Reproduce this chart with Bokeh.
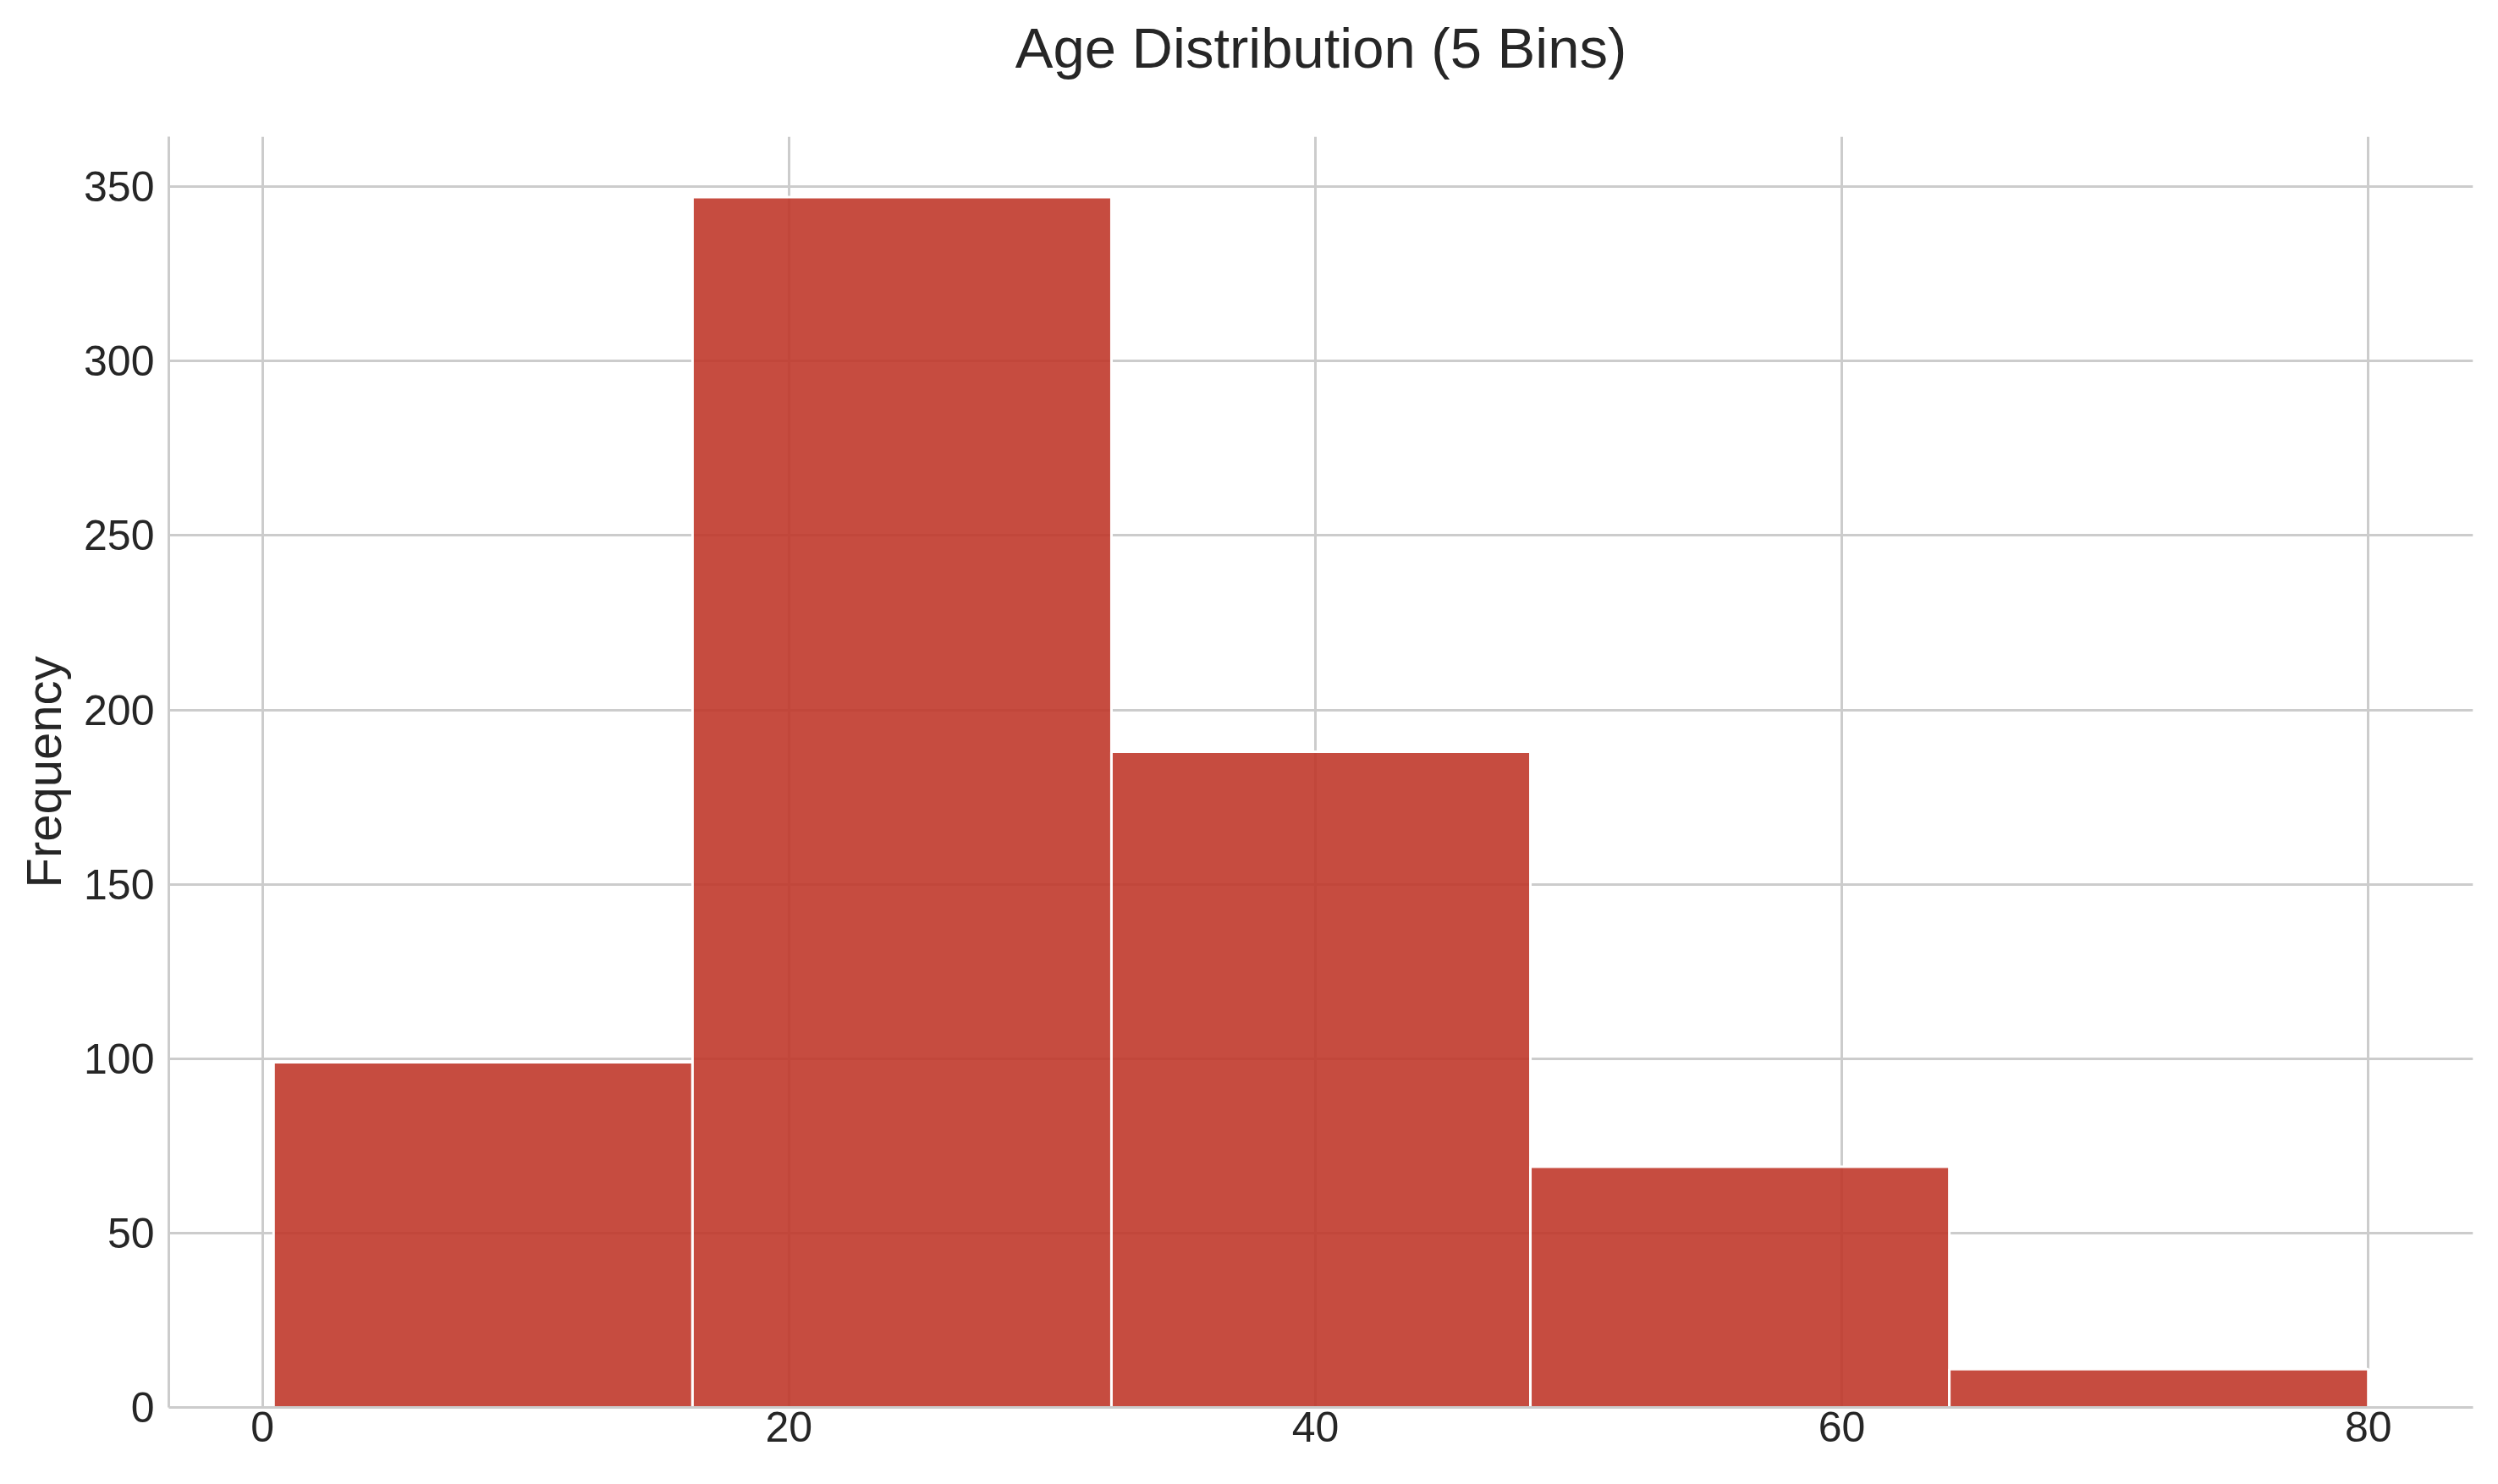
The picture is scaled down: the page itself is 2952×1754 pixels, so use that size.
from bokeh.plotting import figure
from bokeh.models import Range1d, FixedTicker, Title
from bokeh.embed import file_html
from bokeh.resources import INLINE

# Age histogram, 5 bins (edges, counts)
bin_edges = [0.42, 16.336, 32.252, 48.168, 64.084, 80.0]
counts = [99, 347, 188, 69, 11]
x_ticks = [0, 20, 40, 60, 80]
y_ticks = [0, 50, 100, 150, 200, 250, 300, 350]
title_text = "Age Distribution (5 Bins)"

FONT = "Liberation Sans"
TEXT = "#262626"
GRID = "#cccccc"

p = figure(
    width=2936,
    height=1738,
    x_range=Range1d(-3.56, 83.98),
    y_range=Range1d(0, 364.35),
    toolbar_location=None,
    output_backend="svg",
    min_border_left=199,
    min_border_right=14,
    min_border_top=161,
    min_border_bottom=75,
)

p.quad(
    left=bin_edges[:-1],
    right=bin_edges[1:],
    top=counts,
    bottom=0,
    fill_color="#c0392b",
    fill_alpha=0.9,
    line_color="white",
    line_width=3,
)

# blank spacer between frame and title, so the title sits higher up
p.add_layout(Title(text=" ", text_font_size="2px", standoff=64), "above")
p.add_layout(
    Title(
        text=title_text,
        text_font=FONT,
        text_font_size="67px",
        text_font_style="normal",
        text_color=TEXT,
        align="center",
        standoff=0,
    ),
    "above",
)

# axes
p.xaxis.ticker = FixedTicker(ticks=x_ticks)
p.yaxis.ticker = FixedTicker(ticks=y_ticks)
for ax in (p.xaxis[0], p.yaxis[0]):
    ax.axis_line_color = GRID
    ax.axis_line_width = 3
    ax.major_tick_line_color = None
    ax.minor_tick_line_color = None
    ax.major_tick_out = 0
    ax.major_tick_in = 0
    ax.major_label_text_font = FONT
    ax.major_label_text_font_size = "50px"
    ax.major_label_text_color = TEXT
p.xaxis.major_label_standoff = 5
p.yaxis.major_label_standoff = 17

p.yaxis.axis_label = "Frequency"
p.yaxis.axis_label_text_font = FONT
p.yaxis.axis_label_text_font_size = "58px"
p.yaxis.axis_label_text_font_style = "normal"
p.yaxis.axis_label_text_color = TEXT
p.yaxis.axis_label_standoff = 12

# grid
p.xgrid.grid_line_color = GRID
p.ygrid.grid_line_color = GRID
p.xgrid.grid_line_width = 3
p.ygrid.grid_line_width = 3
p.outline_line_color = None
p.background_fill_color = "white"
p.border_fill_color = "white"

open("out.html", "w").write(file_html(p, INLINE))
